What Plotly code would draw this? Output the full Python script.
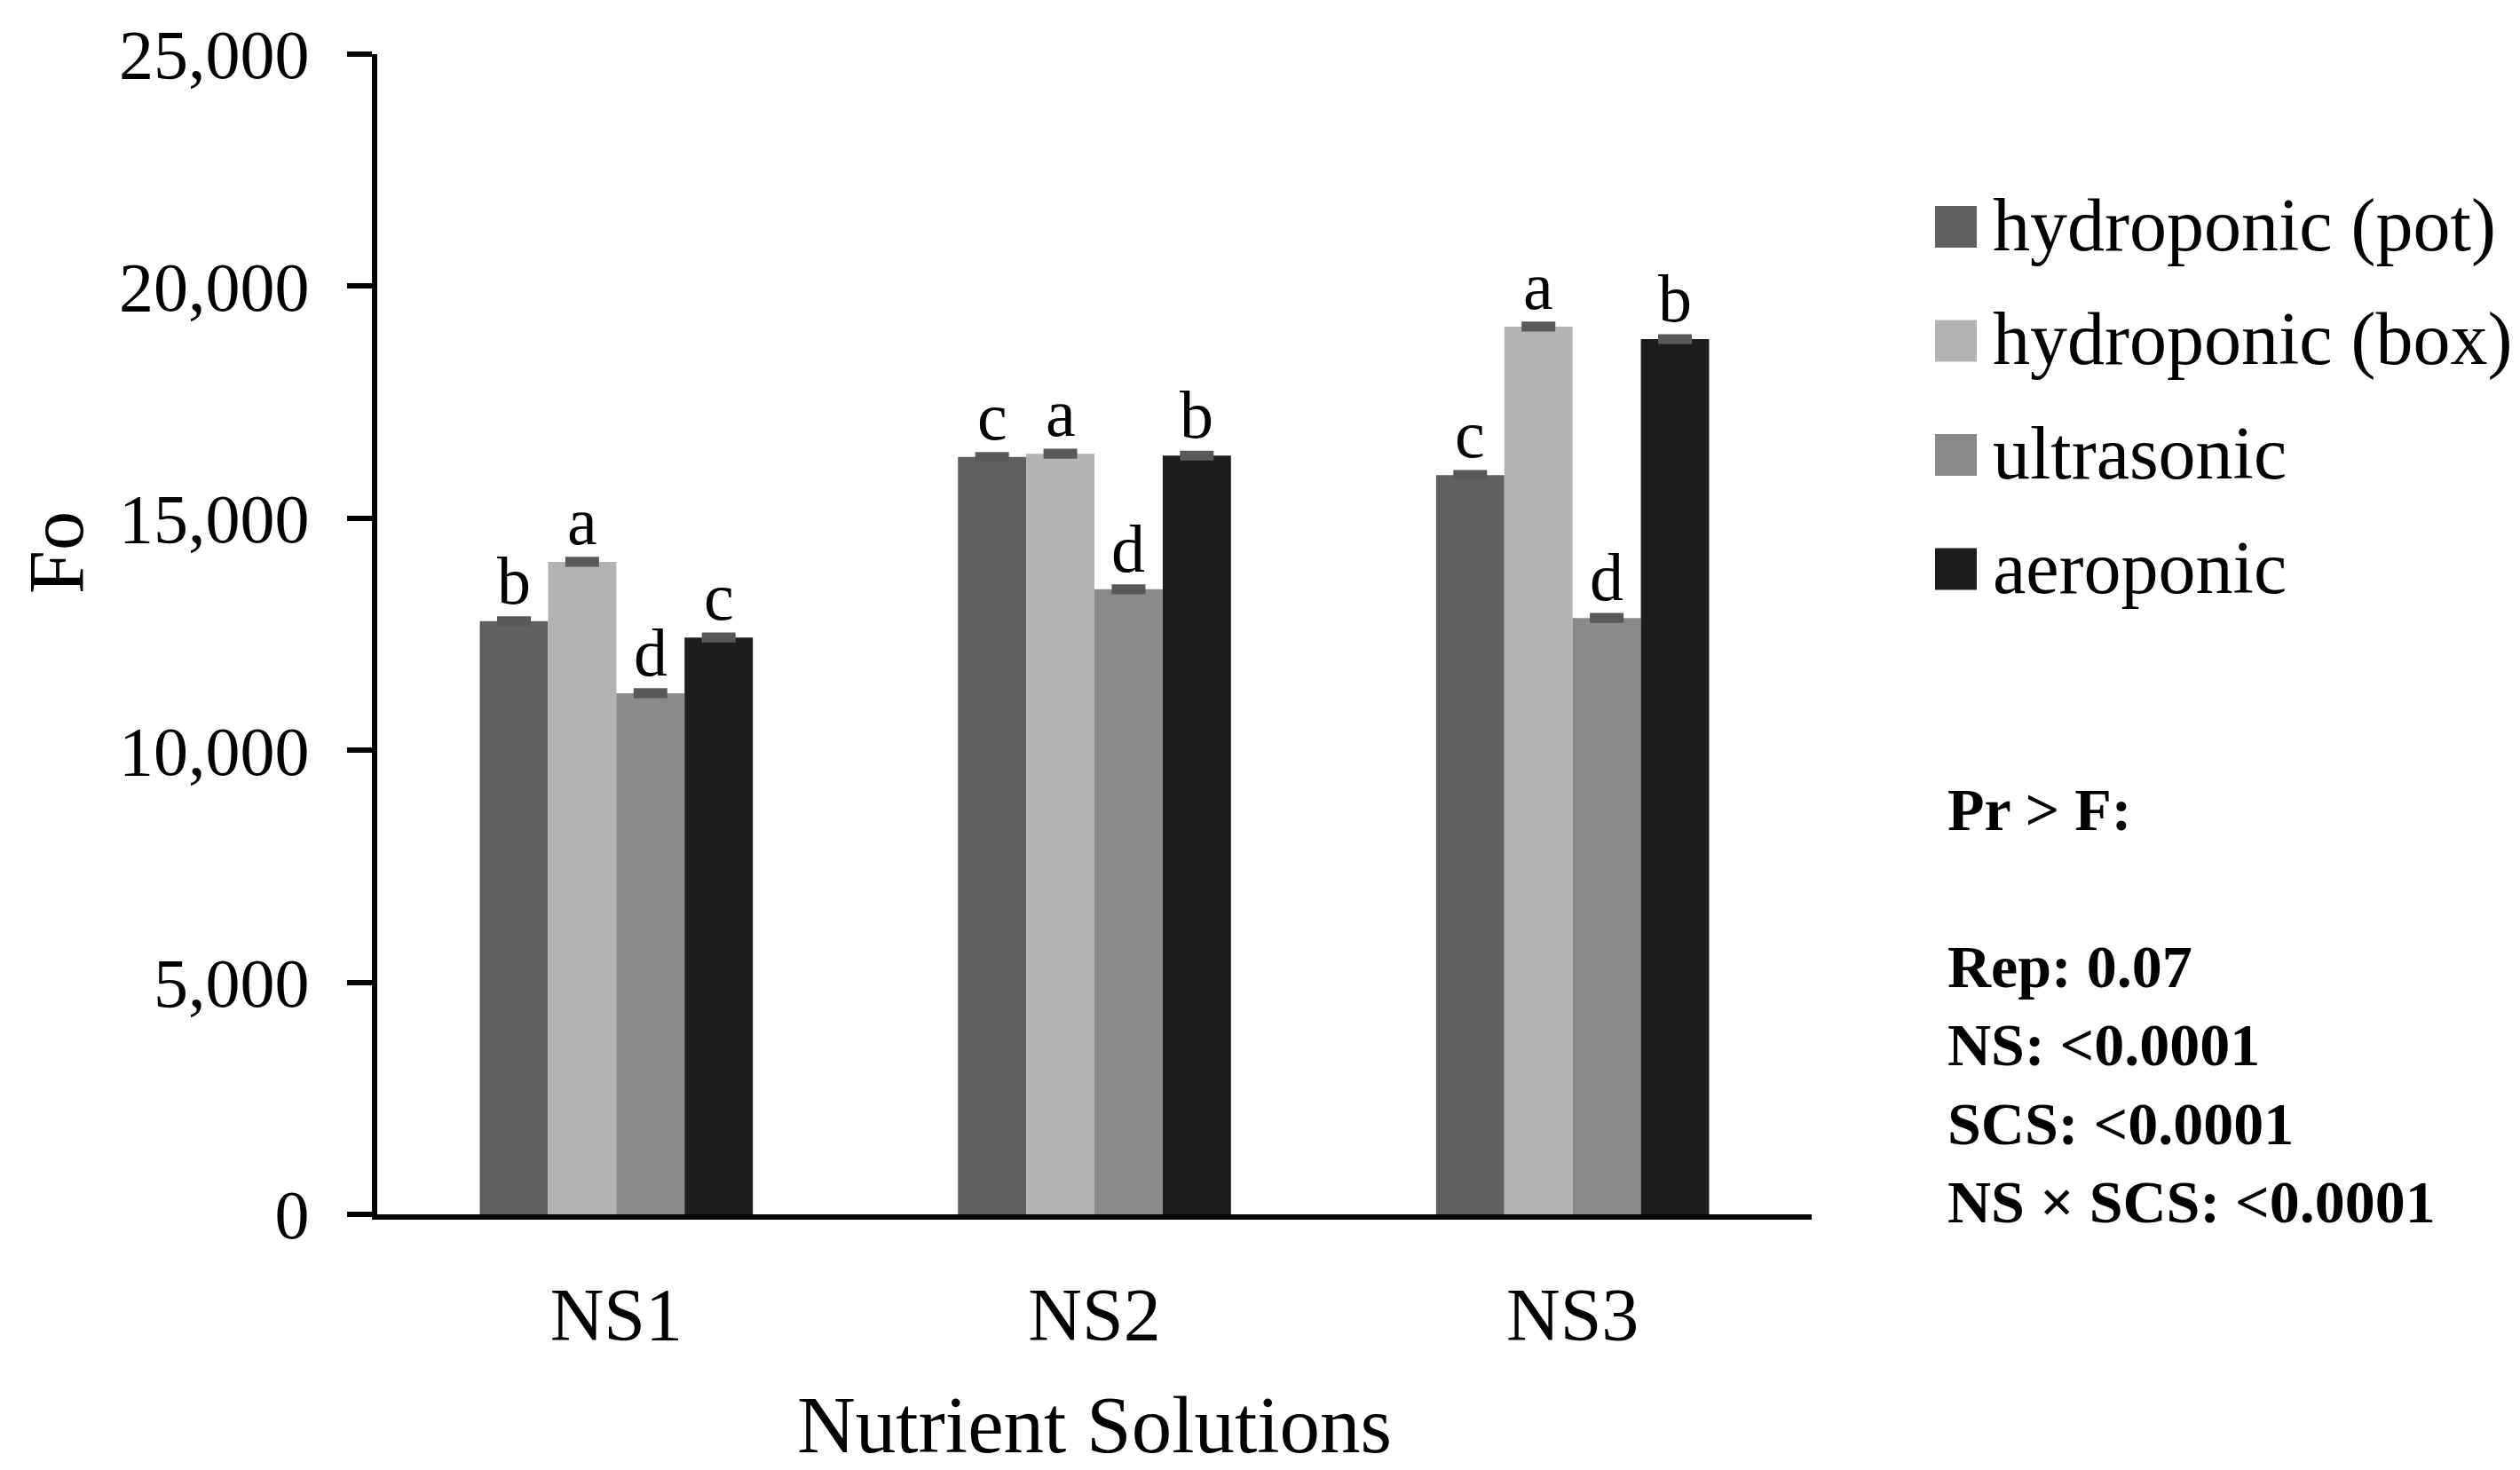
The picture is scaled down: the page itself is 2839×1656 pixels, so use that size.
import plotly.graph_objects as go

categories = ["NS1", "NS2", "NS3"]
series_names = ["hydroponic (pot)", "hydroponic (box)", "ultrasonic", "aeroponic"]
hydro_pot = [12780, 16320, 15930]
hydro_box = [14060, 16390, 19130]
ultrasonic = [11230, 13470, 12850]
aeroponic = [12430, 16350, 18860]
err_pot = [40, 40, 40]
err_box = [40, 40, 40]
err_ultra = [40, 40, 40]
err_aero = [40, 40, 40]
letters_pot = ["b", "c", "c"]
letters_box = ["a", "a", "a"]
letters_ultra = ["d", "d", "d"]
letters_aero = ["c", "b", "b"]
y_ticks = [0, 5000, 10000, 15000, 20000, 25000]
stats_lines = ["Pr > F:", "", "Rep: 0.07", "NS: <0.0001", "SCS: <0.0001", "NS × SCS: <0.0001"]

colors = ["#606060", "#b3b3b3", "#8a8a8a", "#1c1c1c"]
values = [hydro_pot, hydro_box, ultrasonic, aeroponic]
errors = [err_pot, err_box, err_ultra, err_aero]
letters = [letters_pot, letters_box, letters_ultra, letters_aero]

FONT = "Liberation Serif"
# page has an 8px body margin, so the figure is 16px smaller than the window
W, H = 2831, 1648
ML, MR, MT, MB = 417, 798, 53, 288
BARGAP = 0.429

fig = go.Figure()
for name, vals, errs, col in zip(series_names, values, errors, colors):
    fig.add_trace(go.Bar(
        name=name, x=categories, y=vals,
        marker=dict(color=col, line=dict(width=0)),
        error_y=dict(type="data", array=errs, visible=True,
                     color="#595959", thickness=7, width=19),
        showlegend=False,
    ))

# significance letters above each bar (positions derived from group layout)
n = len(series_names)
bw = (1 - BARGAP) / n
for j, (vals, labs) in enumerate(zip(values, letters)):
    for i, (v, lab) in enumerate(zip(vals, labs)):
        fig.add_annotation(
            x=i + (j - (n - 1) / 2) * bw, y=v, xref="x", yref="y",
            text=lab, showarrow=False, yanchor="bottom", xanchor="center",
            yshift=2, font=dict(family=FONT, size=76, color="black"),
        )

pw = W - ML - MR
ph = H - MT - MB
OFF = 8  # body margin offset between page and reference coordinates
def px_x(x):
    return (x - OFF - ML) / pw
def px_y(y):
    return (H - MB - (y - OFF)) / ph

# custom legend (large square swatches)
leg_centers = [255.5, 384, 512.5, 641]
for name, col, cy in zip(series_names, colors, leg_centers):
    fig.add_shape(type="rect", xref="paper", yref="paper",
                  x0=px_x(2180), x1=px_x(2227), y0=px_y(cy + 23.5), y1=px_y(cy - 23.5),
                  fillcolor=col, line=dict(width=0))
    fig.add_annotation(xref="paper", yref="paper", x=px_x(2243), y=px_y(cy - 2),
                       text=name, showarrow=False, xanchor="left", yanchor="middle",
                       font=dict(family=FONT, size=84, color="black"))

fig.add_annotation(xref="paper", yref="paper", x=px_x(2192), y=px_y(1133),
                   text="<br>".join(stats_lines), showarrow=False, align="left",
                   xanchor="left", yanchor="middle",
                   font=dict(family=FONT, size=68, color="black", weight="bold"))

# y-axis title placed like the reference (above the vertical centre)
fig.add_annotation(xref="paper", yref="paper", x=px_x(63), y=px_y(623),
                   text="Fo", textangle=-90, showarrow=False,
                   xanchor="center", yanchor="middle",
                   font=dict(family=FONT, size=88, color="black"))

fig.update_layout(
    width=W, height=H,
    margin=dict(l=ML, r=MR, t=MT, b=MB, autoexpand=False),
    barmode="group", bargap=BARGAP, bargroupgap=0,
    plot_bgcolor="white", paper_bgcolor="white",
    font=dict(family=FONT, color="black"),
    xaxis=dict(
        type="category", categoryorder="array", categoryarray=categories,
        showline=True, linecolor="black", linewidth=6, ticks="",
        showgrid=False, tickfont=dict(size=84), ticklabelstandoff=35,
        title=dict(text="Nutrient Solutions", font=dict(size=91), standoff=58),
    ),
    yaxis=dict(
        range=[0, 25000], tickvals=y_ticks, tickformat=",",
        showline=True, linecolor="black", linewidth=6,
        ticks="outside", ticklen=28, tickwidth=6, tickcolor="black",
        showgrid=False, zeroline=False, tickfont=dict(size=78),
        ticklabelstandoff=27,
    ),
)

fig.write_html("out.html")
